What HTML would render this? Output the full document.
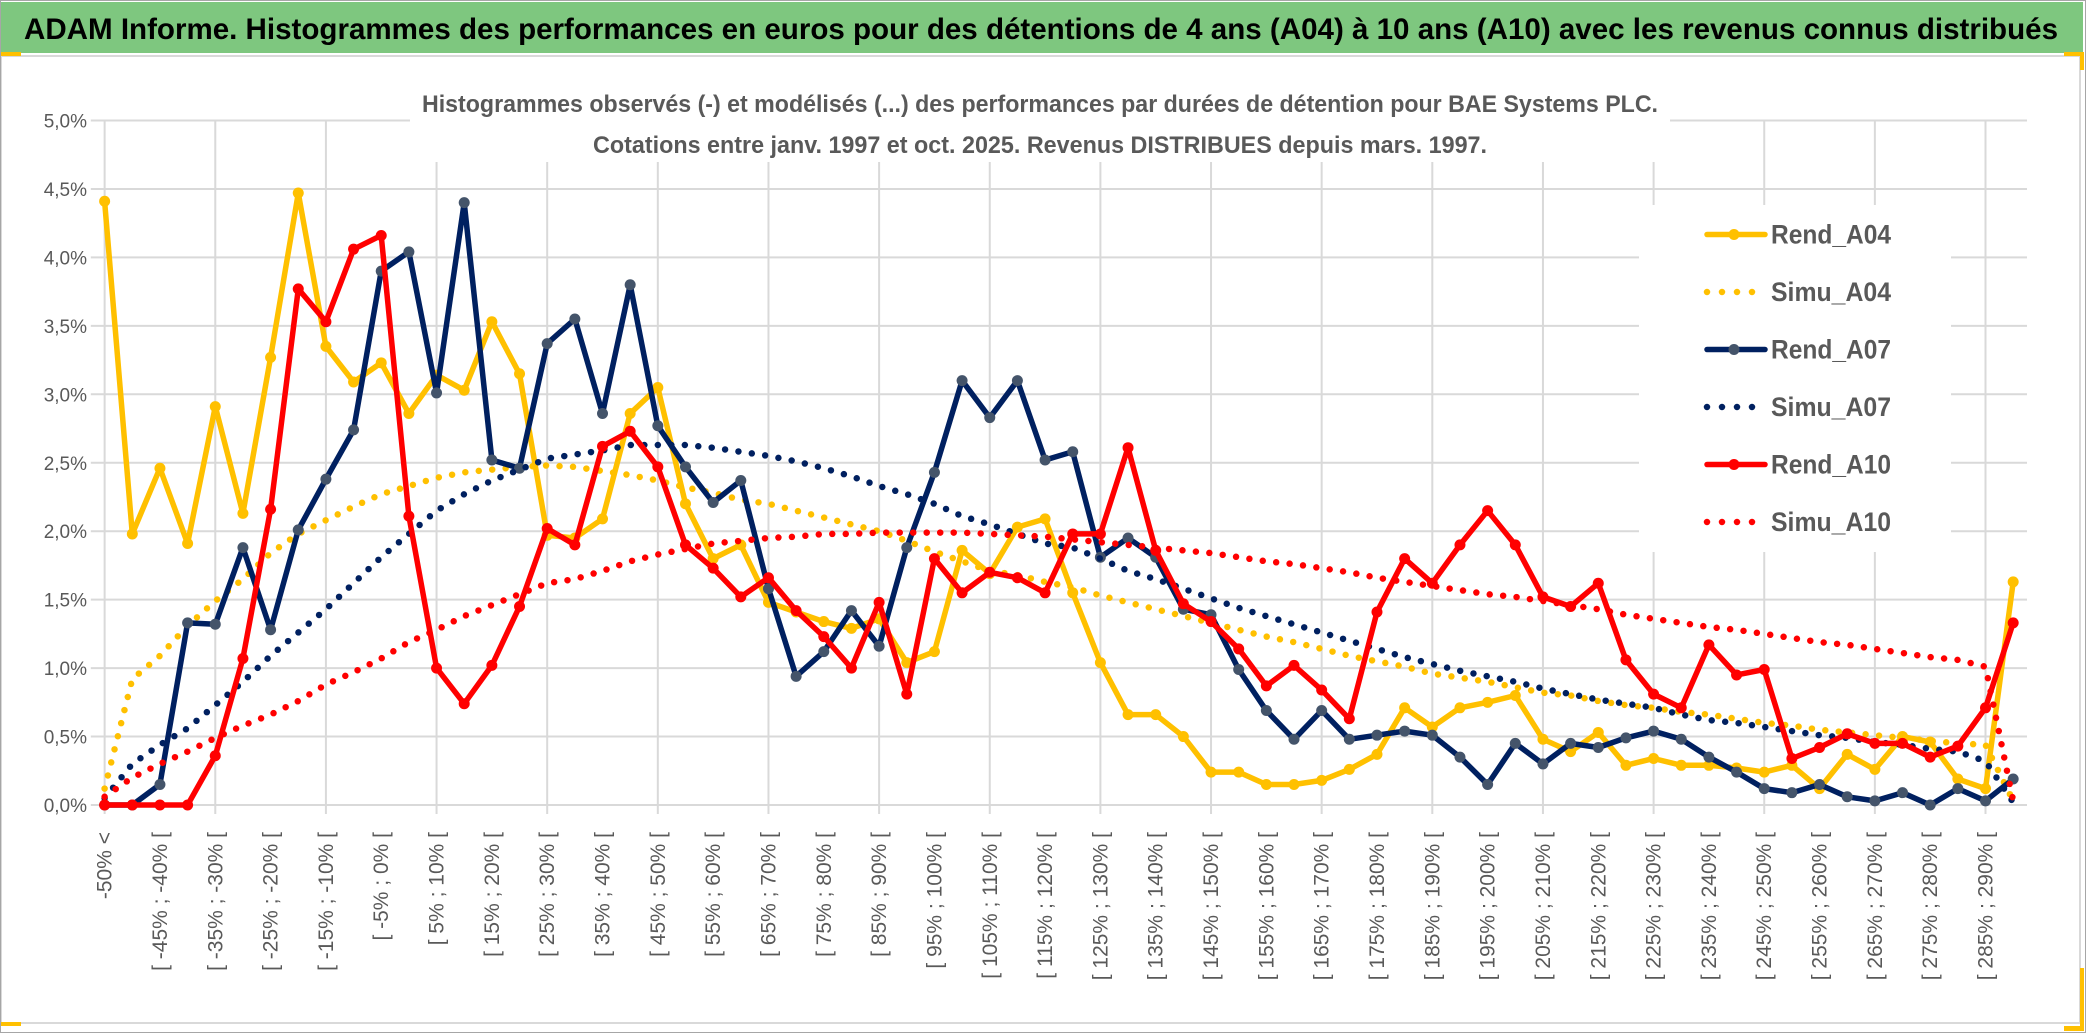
<!DOCTYPE html>
<html><head><meta charset="utf-8"><style>
html,body{margin:0;padding:0;background:#fff;}
svg{display:block;}
text{font-family:"Liberation Sans",sans-serif;}
</style></head><body>
<svg id="chart" width="2086" height="1033" viewBox="0 0 2086 1033" xmlns="http://www.w3.org/2000/svg">
<rect x="0" y="0" width="2086" height="1033" fill="#fff"/>
<rect x="1" y="2" width="2082" height="51" fill="#7ec77f"/>
<text x="24" y="39" font-size="30" font-weight="bold" fill="#000" textLength="2034" lengthAdjust="spacingAndGlyphs">ADAM Informe. Histogrammes des performances en euros pour des détentions de 4 ans (A04) à 10 ans (A10) avec les revenus connus distribués</text>
<rect x="1" y="56" width="2079" height="967" fill="#fff" stroke="#d9d9d9" stroke-width="2"/>
<rect x="0" y="52" width="21" height="4" fill="#ffc000"/>
<rect x="2064" y="52" width="19" height="4" fill="#ffc000"/>
<rect x="2080" y="52" width="4" height="18" fill="#ffc000"/>
<rect x="2080" y="968" width="4" height="62" fill="#ffc000"/>
<rect x="2064" y="1026" width="20" height="5" fill="#ffc000"/>
<rect x="0" y="1022" width="21" height="4" fill="#ffc000"/>
<rect x="0.5" y="0.5" width="2085" height="1032" fill="none" stroke="#a6a6a6" stroke-width="1"/>
<g id="grid"></g>
<rect x="410" y="82" width="1260" height="80" fill="#fff"/>
<text x="1040" y="112" font-size="24" font-weight="bold" fill="#595959" text-anchor="middle" textLength="1236" lengthAdjust="spacingAndGlyphs">Histogrammes observés (-) et modélisés (...) des performances par durées de détention pour BAE Systems PLC.</text>
<text x="1040" y="153" font-size="24" font-weight="bold" fill="#595959" text-anchor="middle" textLength="894" lengthAdjust="spacingAndGlyphs">Cotations entre janv. 1997 et oct. 2025. Revenus DISTRIBUES depuis mars. 1997.</text>
<g id="ylabels"></g>
<g id="xlabels"></g>
<g id="series"></g>
<g id="legend"></g>
</svg>
<script>
const rendA04 = [4.41,1.98,2.46,1.91,2.91,2.13,3.27,4.47,3.35,3.09,3.23,2.86,3.14,3.03,3.53,3.15,1.97,1.95,2.09,2.86,3.05,2.20,1.80,1.90,1.48,1.41,1.34,1.29,1.36,1.04,1.12,1.86,1.69,2.03,2.09,1.55,1.04,0.66,0.66,0.50,0.24,0.24,0.15,0.15,0.18,0.26,0.37,0.71,0.57,0.71,0.75,0.80,0.48,0.39,0.53,0.29,0.34,0.29,0.29,0.27,0.24,0.29,0.12,0.37,0.26,0.50,0.46,0.19,0.12,1.63];
const simuA04 = [0.12,0.92,1.09,1.31,1.49,1.65,1.84,1.98,2.08,2.18,2.27,2.33,2.39,2.43,2.45,2.47,2.48,2.47,2.44,2.41,2.37,2.32,2.28,2.23,2.20,2.15,2.10,2.05,2.00,1.93,1.85,1.78,1.71,1.68,1.63,1.59,1.53,1.48,1.43,1.38,1.33,1.28,1.23,1.19,1.14,1.09,1.05,1.01,0.96,0.93,0.90,0.86,0.82,0.80,0.76,0.73,0.71,0.68,0.66,0.63,0.60,0.58,0.55,0.53,0.51,0.49,0.47,0.45,0.44,0.03];
const rendA07 = [0,0,0.15,1.33,1.32,1.88,1.28,2.01,2.38,2.74,3.90,4.04,3.01,4.40,2.52,2.46,3.37,3.55,2.86,3.80,2.77,2.47,2.21,2.37,1.58,0.94,1.12,1.42,1.16,1.88,2.43,3.10,2.83,3.10,2.52,2.58,1.81,1.95,1.81,1.43,1.39,0.99,0.69,0.48,0.69,0.48,0.51,0.54,0.51,0.35,0.15,0.45,0.30,0.45,0.42,0.49,0.54,0.48,0.35,0.24,0.12,0.09,0.15,0.06,0.03,0.09,0.0,0.12,0.03,0.19];
const simuA07 = [0.05,0.30,0.44,0.56,0.73,0.90,1.09,1.26,1.43,1.62,1.81,1.98,2.15,2.27,2.37,2.45,2.53,2.56,2.59,2.63,2.63,2.63,2.61,2.58,2.55,2.51,2.46,2.40,2.33,2.27,2.20,2.11,2.05,1.98,1.91,1.88,1.80,1.71,1.65,1.58,1.51,1.44,1.38,1.32,1.26,1.20,1.14,1.08,1.03,0.98,0.94,0.90,0.85,0.81,0.77,0.74,0.71,0.66,0.62,0.60,0.57,0.54,0.51,0.49,0.46,0.44,0.41,0.39,0.32,0.02];
const rendA10 = [0,0,0,0,0.36,1.07,2.16,3.77,3.53,4.06,4.16,2.11,1.00,0.74,1.02,1.45,2.02,1.90,2.62,2.73,2.47,1.90,1.73,1.52,1.66,1.42,1.23,1.00,1.48,0.81,1.80,1.55,1.70,1.66,1.55,1.98,1.98,2.61,1.86,1.47,1.34,1.14,0.87,1.02,0.84,0.63,1.41,1.80,1.62,1.90,2.15,1.90,1.52,1.45,1.62,1.06,0.81,0.71,1.17,0.95,0.99,0.34,0.42,0.52,0.45,0.45,0.35,0.43,0.71,1.33];
const simuA10 = [0.06,0.20,0.30,0.39,0.49,0.58,0.66,0.76,0.88,0.97,1.07,1.19,1.28,1.38,1.46,1.54,1.62,1.65,1.71,1.78,1.83,1.87,1.91,1.93,1.95,1.96,1.98,1.98,1.99,1.99,1.99,1.99,1.98,1.97,1.96,1.94,1.92,1.90,1.88,1.86,1.84,1.81,1.78,1.76,1.73,1.70,1.66,1.63,1.60,1.57,1.54,1.52,1.49,1.46,1.43,1.39,1.36,1.33,1.30,1.28,1.25,1.22,1.19,1.17,1.14,1.11,1.08,1.06,1.01,0.03];
const yTicks = [0,0.5,1,1.5,2,2.5,3,3.5,4,4.5,5];
const yTickLabels = ["0,0%","0,5%","1,0%","1,5%","2,0%","2,5%","3,0%","3,5%","4,0%","4,5%","5,0%"];
const categories = [];
for (let k = 0; k < 70; k++) {
  if (k === 0) categories.push("-50% <");
  else { const a = -55 + 5*k; categories.push("[ " + a + "% ; " + (a+5) + "% ["); }
}
const seriesNames = ["Rend_A04","Simu_A04","Rend_A07","Simu_A07","Rend_A10","Simu_A10"];

const NS = "http://www.w3.org/2000/svg";
const X0 = 90.8, CW = 27.66, Y0 = 805, YTOP = 120.5, YMAX = 5;
function xPos(i){ return X0 + CW*(i+0.5); }
function yPos(v){ return Y0 - (v/YMAX)*(Y0-YTOP); }
function mk(tag, attrs, parent){ const e = document.createElementNS(NS, tag); for (const k in attrs) e.setAttribute(k, attrs[k]); parent.appendChild(e); return e; }

const grid = document.getElementById('grid');
const xRight = X0 + CW*70;
yTicks.forEach((t,i)=>{
  const l = mk('line',{x1:X0,x2:xRight,y1:yPos(t),y2:yPos(t),stroke:'#d9d9d9','stroke-width':2},grid);
  
  
});
for (let i=0;i<70;i+=4){
  const l = mk('line',{x1:xPos(i),x2:xPos(i),y1:YTOP,y2:Y0+9,stroke:'#d9d9d9','stroke-width':2},grid);
  
  
}

const yl = document.getElementById('ylabels');
yTicks.forEach((t,i)=>{
  const e = mk('text',{x:87,y:yPos(t)+7,'font-size':19,fill:'#595959','text-anchor':'end'},yl);
  e.textContent = yTickLabels[i];
  
  
});

const xl = document.getElementById('xlabels');
categories.forEach((c,i)=>{
  if (i%2!==0) return;
  const x = xPos(i)+7, y = 832;
  const e = mk('text',{x:x,y:y,'font-size':21,fill:'#595959','text-anchor':'end',transform:'rotate(-90 '+x+' '+y+')'},xl);
  e.textContent = c;
  
  
});

const sg = document.getElementById('series');
function solid(data, color, mcolor, name){
  const g = mk('g',{},sg);
  
  
  const pts = data.map((v,i)=>xPos(i).toFixed(1)+','+yPos(v).toFixed(1)).join(' ');
  const pl = mk('polyline',{points:pts,fill:'none',stroke:color,'stroke-width':5.5,'stroke-linejoin':'round','stroke-linecap':'round'},g);
  
  
  data.forEach((v,i)=>{
    const c = mk('circle',{cx:xPos(i),cy:yPos(v),r:5.5,fill:mcolor},g);
    
    
  });
}
function dotted(data, color, name){
  const pts = data.map((v,i)=>xPos(i).toFixed(1)+','+yPos(v).toFixed(1)).join(' ');
  const pl = mk('polyline',{points:pts,fill:'none',stroke:color,'stroke-width':6.5,'stroke-linecap':'round','stroke-linejoin':'round','stroke-dasharray':'0 13.5'},sg);
  
  
}
solid(rendA04,'#ffc000','#ffc000','rend-a04-series');
dotted(simuA04,'#ffc000','simu-a04-series');
solid(rendA07,'#002060','#44546a','rend-a07-series');
dotted(simuA07,'#002060','simu-a07-series');
solid(rendA10,'#ff0000','#ff0000','rend-a10-series');
dotted(simuA10,'#ff0000','simu-a10-series');

const lg = document.getElementById('legend');
const lbg = mk('rect',{x:1639,y:205,width:312,height:347,fill:'#fff'},lg);


const legColors = ['#ffc000','#ffc000','#002060','#002060','#ff0000','#ff0000'];
const legMarker = ['#ffc000',null,'#44546a',null,'#ff0000',null];
seriesNames.forEach((n,i)=>{
  const y = 234.5 + i*57.5;
  const g = mk('g',{},lg);
  
  
  if (legMarker[i]) {
    mk('line',{x1:1707,x2:1765,y1:y,y2:y,stroke:legColors[i],'stroke-width':5.5,'stroke-linecap':'round'},g);
    mk('circle',{cx:1734,cy:y,r:5.5,fill:legMarker[i]},g);
  } else {
    mk('line',{x1:1707,x2:1765,y1:y,y2:y,stroke:legColors[i],'stroke-width':6.5,'stroke-linecap':'round','stroke-dasharray':'0 15'},g);
  }
  const t = mk('text',{x:1771,y:y+9,'font-size':27,'font-weight':'bold',fill:'#595959',textLength:120,lengthAdjust:'spacingAndGlyphs'},g);
  t.textContent = n;
});
</script>
</body></html>
